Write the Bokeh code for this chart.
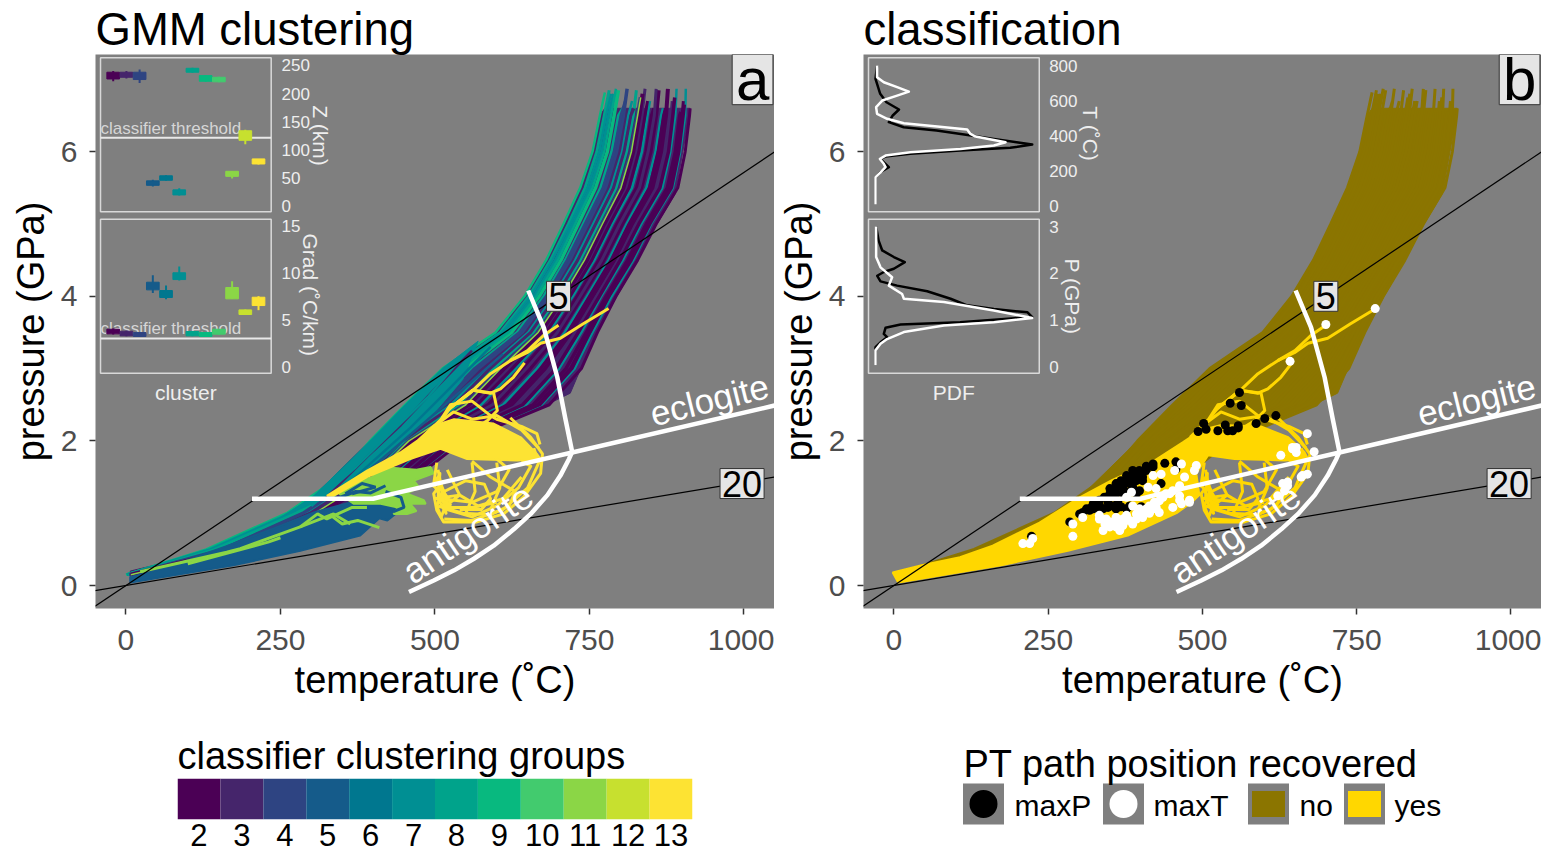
import math
from bokeh.plotting import figure
from bokeh.layouts import column, row
from bokeh.models import Range1d, Label, FixedTicker, FactorRange
from bokeh.core.properties import value
from bokeh.embed import file_html
from bokeh.resources import INLINE

FONT = "Liberation Sans"
GREY = "#7f7f7f"
VIRIDIS = ["#4B0055","#45256B","#2E4482","#155B8A","#00778F","#008F93",
           "#00A38B","#08B97F","#42CB6E","#8BD646","#C7E02F","#FDE333"]
CLUSTERS = [2,3,4,5,6,7,8,9,10,11,12,13]
NO_COL = "#8B7500"
YES_COL = "#FFD700"

# --- geotherms and reaction boundaries
GEO_T = [-50, 1050]
GEO5_P = [-0.286, 6.0]
GEO20_P = [-0.071, 1.5]
ECLOGITE_T = [204, 400, 428, 722, 1050]
ECLOGITE_P = [1.2, 1.2, 1.26, 1.84, 2.49]
ANTIG_T = [458,498,531,563,595,628,655,682,703,717,722,711,698,676,651]
ANTIG_P = [-0.09,0.07,0.21,0.37,0.55,0.78,0.99,1.25,1.52,1.75,1.85,2.31,2.88,3.57,4.08]

# --- PT paths: temperature at each pressure level, last column at the path's top pressure
PATH_LEVELS = [0.15,0.5,1,1.5,2,2.5,3,3.5,4,4.5,5,5.5,6,6.5]
PATH_T = [
 [0,130,260,345,395,452,512,598,645,680,708,735,755,767,775],
 [1,135,266,351,402,464,523,606,652,687,716,743,762,774,782],
 [2,140,271,358,410,475,535,614,660,695,723,751,770,781,789],
 [3,147,278,365,419,489,548,624,669,704,732,760,779,790,797],
 [4,152,283,371,426,501,559,633,676,711,740,768,786,797,804],
 [5,157,289,378,434,513,570,641,683,718,747,776,794,805,811],
 [6,164,295,385,443,526,584,651,692,727,756,785,803,813,819],
 [7,169,301,391,451,538,595,659,700,735,764,793,810,821,826],
 [8,174,306,398,458,550,606,667,707,742,771,801,818,828,833],
 [9,179,312,404,465,561,618,675,715,750,778,809,825,835,840],
 [10,186,318,411,474,575,631,685,723,758,787,819,835,844,848],
 [11,191,324,418,482,587,642,694,731,766,795,827,842,851,855],
 [12,196,329,424,489,599,654,702,738,773,803,834,849,858,862],
 [13,201,335,431,497,610,665,710,746,781,810,842,857,866,869],
 [14,208,341,438,506,624,678,720,755,790,819,852,866,874,877],
 [15,213,347,444,513,636,690,728,762,797,826,860,874,882,884],
 [16,218,352,451,521,648,701,737,769,804,834,868,881,889,891],
 [17,223,358,456,528,659,712,745,777,812,842,876,889,896,898],
 [19,230,364,464,537,673,726,755,786,821,850,885,897,905,906],
 [20,235,370,470,545,685,737,763,793,828,858,893,905,912,913],
 [2,137,268,354,405,468,528,609,655,690,719,747,766,777,785],
 [3,143,275,361,414,482,541,619,664,699,727,755,774,785,793],
 [5,155,286,375,430,507,564,637,680,714,743,772,790,801,808],
 [7,167,298,388,447,532,589,655,696,731,760,789,806,817,822],
 [8,176,309,401,461,555,612,671,711,746,774,805,821,831,836],
 [10,183,315,407,470,568,625,680,719,754,783,814,830,840,844],
 [11,193,327,421,486,593,648,698,735,770,799,831,845,855,858],
 [13,204,338,434,501,617,671,715,750,785,814,847,861,870,873],
 [15,216,350,448,517,642,696,732,766,800,830,864,878,885,888],
 [18,226,361,460,532,666,719,750,781,816,846,881,893,900,902],
 [18,228,362,462,535,670,722,751,782,818,848,883,895,902,904],
]
PATH_TOP = [6.82,6.85,6.8,6.85,6.6,6.87,6.7,6.85,6.75,6.87,6.7,6.6,6.85,6.6,6.87,6.7,6.87,6.55,6.87,6.6,
            6.8,6.87,6.7,6.6,6.8,6.7,6.87,6.6,6.75,6.7,6.65]
PATH_CLUSTER = [9,8,7,9,8,4,7,8,4,3,7,2,2,7,2,3,7,2,7,2,
                7,8,4,3,2,2,3,2,2,2,2]
PATH_WIDTH = [2.5,3,3,3.5,3,3.5,2.5,3,4,3,2.5,4,4,2.5,4,3,2.5,3.5,2.5,3,
              2.5,2.5,3,3,4,3,3,3,3.5,3,3]

ENV_T = [7,110,250,304,395,452,512,598,645,680,708,735,755,767,775,913,908,889,853,816,781,751,730,719,671,574,471,433,282,7]
ENV_P = [0.2,0.41,0.94,1.24,2.0,2.5,3.0,3.5,4.0,4.5,5.0,5.5,6.0,6.5,6.6,6.6,6.33,5.42,4.91,4.32,3.8,3.29,2.88,2.66,2.46,2.21,1.59,1.01,0.48,0.04]

TEAL_T = [250,304,395,452,512,570,545,500,450,390,320]
TEAL_P = [0.94,1.24,2.0,2.5,3.0,3.38,2.85,2.4,2.0,1.55,1.2]
TEAL_LINES_T = [[320,390,445,500,560],[330,400,460,515,590],[350,410,470,530,610],[300,370,430,490,540]]
TEAL_LINES_P = [[1.18,1.78,2.22,2.72,3.25],[1.18,1.72,2.18,2.65,3.3],[1.3,1.72,2.16,2.6,3.2],[1.1,1.62,2.12,2.62,3.12]]
TEAL_LINES_C = [3,6,5,7]

BLUE_T = [7,67,174,239,304,363,405,433,439,423,410,379,282,174,7]
BLUE_P = [0.115,0.25,0.58,0.79,1.01,1.15,1.2,1.11,1.01,0.9,0.93,0.69,0.48,0.28,0.04]
GREEN_T = [345,379,400,417,444,470,493,498,466,474,455,482,485,460,470,455,433,440,412,369]
GREEN_P = [1.27,1.45,1.5,1.64,1.62,1.6,1.64,1.55,1.45,1.36,1.27,1.18,1.13,1.13,1.03,0.99,0.99,1.08,1.13,1.13]
BLOB_T = [325,390,444,471,498,531,595,639,665,671,633,552,509,460,390,336]
BLOB_P = [1.24,1.59,1.84,2.0,2.21,2.3,2.24,2.05,1.82,1.75,1.73,1.75,1.89,1.75,1.5,1.24]
YES_T = [-2,45,107,160,236,301,354,419,468,498,531,595,639,665,671,633,552,509,490,495,484,458,379,282,174,7]
YES_P = [0.18,0.28,0.39,0.55,0.87,1.22,1.46,1.71,1.98,2.15,2.22,2.2,2.05,1.85,1.75,1.73,1.75,1.8,1.55,1.25,1.16,1.0,0.69,0.48,0.28,0.04]

GREEN_LINES_T = [[23,163,185,282,336,363],[282,310,325,366,390],[100,160,230,250],[330,350,375,410]]
GREEN_LINES_P = [[0.19,0.46,0.51,0.81,0.99,0.85],[0.81,0.99,0.92,1.08,1.08],[0.3,0.44,0.6,0.66],[0.98,0.85,0.9,0.8]]
BLUE_LINES_T = [[355,382,404,366],[340,372,396,420],[420,445,450,432]]
BLUE_LINES_P = [[1.27,1.41,1.36,1.27],[1.2,1.3,1.28,1.38],[1.3,1.22,1.08,1.02]]

LOOP_T = [
 [781,740,703,671,649,622,590,558,525,512],
 [700,676,650,622],
 [645,627,606,590,561,536,520],
 [520,536,561,595,601,585,550],
 [514,498,503,514,568,611,644,671,674,655,622],
 [503,498,520,560,600,635,655,640],
 [520,540,570,610,640],
 [510,560,600,620,600],
 [505,545,590,620,630,590,560],
 [515,550,580,590,575,540],
 [560,565,550],
 [600,605,590],
 [498,508,505,518,510,525,540,498],
 [480,510,525,560,590,600,640,665,670],
 [498,530,560,600,640,668],
 [505,512,503,510,520,508],
 [515,560,610,650,668,660],
 [500,515,505,525,515,560,600],
]
LOOP_P = [
 [3.83,3.62,3.42,3.35,3.22,3.11,2.93,2.67,2.46,2.31],
 [3.6,3.46,3.25,3.11],
 [3.08,2.88,2.72,2.66,2.7,2.53,2.42],
 [2.42,2.53,2.7,2.66,2.42,2.28,2.1],
 [1.45,1.27,1.04,0.88,0.88,0.99,1.23,1.55,1.82,2.05,2.32],
 [1.7,1.4,1.05,0.95,1.1,1.35,1.65,1.72],
 [1.6,1.25,1.1,1.2,1.5],
 [1.2,1.15,1.3,1.6,1.75],
 [1.1,1.0,0.98,1.1,1.3,1.5,1.72],
 [1.3,1.45,1.4,1.2,1.05,1.05],
 [1.7,1.3,1.0],
 [1.7,1.35,1.05],
 [1.35,1.55,1.2,1.0,1.35,1.15,1.25,1.2],
 [2.05,2.3,2.5,2.55,2.35,2.3,2.2,2.1,1.95],
 [2.2,2.4,2.3,2.35,2.15,1.9],
 [1.6,1.3,1.1,0.95,1.15,1.45],
 [0.92,0.9,1.05,1.35,1.7,1.9],
 [1.5,1.3,1.2,1.12,1.08,1.08,1.15],
]

# --- recovered positions in panel b
MAXP_T = [560,545,563,619,601,587,502,493,506,525,537,541,549,558,558,439,457,457,420,409,398,385,377,403,374,360,350,433,398,377,355,347,333,320,306,317,331,347,360,377,401,301,285,223,387,371,393,363,
          312,323,333,341,350,360,368,377,387,398,409,420,323,339,355,368,382,360,371,387,403,382,393]
MAXP_P = [2.67,2.52,2.49,2.35,2.31,2.24,2.24,2.13,2.16,2.14,2.22,2.14,2.14,2.21,2.18,1.69,1.71,1.61,1.64,1.59,1.52,1.5,1.47,1.45,1.43,1.34,1.27,1.41,1.31,1.29,1.24,1.15,1.11,1.08,1.01,1.04,1.06,1.08,1.06,1.06,1.09,0.99,0.88,0.68,1.59,1.36,1.45,1.17,
          1.06,1.13,1.18,1.22,1.34,1.41,1.45,1.52,1.54,1.59,1.65,1.68,1.06,1.06,1.1,1.09,1.1,1.27,1.27,1.36,1.5,1.41,1.27]
MAXT_T = [780,700,642,670,646,652,627,681,670,660,630,638,633,622,490,487,466,455,471,433,420,412,425,463,463,479,466,447,436,422,409,393,377,366,371,350,339,333,306,290,290,209,225,220,366,403,430,452,385,377,387,355,344,387,414,433,
          430,441,452,463,425,414,403,393,382,371,360,350,360,377,398,414,420,333,342,463,479,662,638,646,652]
MAXT_P = [3.83,3.61,3.1,2.1,1.91,1.84,1.8,1.85,1.54,1.5,1.41,1.38,1.31,1.24,1.66,1.59,1.68,1.59,1.5,1.54,1.52,1.36,1.34,1.38,1.24,1.18,1.13,1.27,1.22,1.15,1.06,0.99,0.97,0.85,0.92,0.88,0.76,0.97,0.94,0.85,0.68,0.58,0.65,0.58,0.76,0.94,1.01,1.08,1.29,1.22,1.1,0.85,0.92,0.85,1.1,1.22,
          1.17,1.27,1.31,1.36,1.08,1.01,1.01,0.92,0.9,0.83,0.81,0.81,0.94,0.9,1.06,1.0,1.06,0.92,0.85,1.18,1.15,1.52,1.43,1.89,1.91]

# --- inset boxplots per cluster
Z_Q1 = [226,229,225,37,46,20,238,222,221,53,117,75]
Z_Q3 = [238,238,238,45,54,29,245,232,229,62,134,84]
Z_LO = [222,227,219,35,45,19,237,221,220,49,110,74]
Z_HI = [240,240,243,47,55,32,246,233,230,62,136,84]
G_Q1 = [3.53,3.32,3.25,8.19,7.38,9.28,3.32,3.25,3.5,7.24,5.58,6.53]
G_Q3 = [4.02,3.81,3.67,9.0,8.12,10.0,3.78,3.67,4.02,8.44,6.07,7.41]
G_LO = [3.45,3.28,3.2,7.87,7.2,9.18,3.28,3.2,3.45,7.24,5.55,6.04]
G_HI = [4.1,3.85,3.7,9.74,8.65,10.66,3.82,3.7,4.05,9.1,6.1,7.52]
Z_TICKS = [0,50,100,150,200,250]
G_TICKS = [0,5,10,15]
Z_THRESHOLD = 121.5
G_THRESHOLD = 3.04

# --- inset densities
PDF_T_BLACK = [800,724,639,591,550,516,478,449,430,402,383,364,351,332,317,298,282,269,222,193,165,9]
PDF_BLACK_T = [0.01,0,0.03,0.07,0.15,0.11,0.085,0.18,0.39,0.61,0.755,0.9,1,0.86,0.54,0.22,0.064,0.03,0.085,0.03,0,0]
PDF_T_WHITE = [800,734,705,677,652,629,601,563,525,497,472,453,436,411,396,377,364,345,326,307,288,269,241,222,193,165,9]
PDF_WHITE_T = [0.01,0.01,0.053,0.138,0.213,0.138,0.043,0.004,0.01,0.074,0.181,0.394,0.585,0.606,0.638,0.755,0.83,0.755,0.543,0.223,0.064,0.028,0.053,0.064,0.032,0,0]
PDF_P_BLACK = [3.0,2.7,2.49,2.35,2.24,2.1,2.03,1.95,1.83,1.74,1.62,1.46,1.32,1.24,1.17,1.07,0.96,0.91,0.84,0.71,0.64,0.53,0.43,0.04]
PDF_BLACK_P = [0.004,0.02,0.043,0.117,0.187,0.117,0.053,0.011,0.032,0.138,0.33,0.479,0.585,0.755,0.97,1,0.54,0.16,0.064,0.053,0.074,0.032,0,0]
PDF_P_WHITE = [3.0,2.35,2.13,1.92,1.74,1.56,1.46,1.39,1.21,1.05,0.96,0.89,0.75,0.6,0.5,0.36,0.04]
PDF_WHITE_P = [0.004,0.004,0.032,0.106,0.085,0.17,0.181,0.436,0.755,1,0.755,0.436,0.181,0.074,0.032,0,0]
T_TICKS = [0,200,400,600,800]
P_TICKS = [0,1,2,3]


def txt(p, x, y, s, size, color="#000000", angle=0, align="center", baseline="middle", **kw):
    p.text(x=[x], y=[y], text=[s], text_font=value(FONT), text_font_size=size, text_color=color,
           angle=angle, text_align=align, text_baseline=baseline, **kw)


def panel(title, w, left):
    p = figure(width=w, height=725, output_backend="svg", toolbar_location=None,
               x_range=Range1d(-49.3, 1049.5), y_range=Range1d(-0.318, 7.344),
               min_border_left=left, min_border_right=0, min_border_top=54, min_border_bottom=117,
               background_fill_color=GREY, outline_line_color=None, title=title)
    p.title.text_font = FONT
    p.title.text_font_size = "45.5px"
    p.title.text_font_style = "normal"
    p.title.text_color = "#000000"
    p.title.align = "left"
    p.title.standoff = 0
    p.title.offset = 0
    p.grid.visible = False
    p.xaxis.ticker = FixedTicker(ticks=[0,250,500,750,1000])
    p.yaxis.ticker = FixedTicker(ticks=[0,2,4,6])
    p.xaxis.axis_label = "temperature (˚C)"
    p.yaxis.axis_label = "pressure (GPa)"
    for ax in (p.xaxis, p.yaxis):
        ax.axis_line_color = None
        ax.major_tick_line_color = "#333333"
        ax.major_tick_line_width = 1.5
        ax.major_tick_in = 0
        ax.major_tick_out = 6
        ax.minor_tick_line_color = None
        ax.major_label_text_font = FONT
        ax.major_label_text_font_size = "30px"
        ax.major_label_text_color = "#4d4d4d"
        ax.axis_label_text_font = FONT
        ax.axis_label_text_font_size = "38px"
        ax.axis_label_text_font_style = "normal"
        ax.axis_label_text_color = "#000000"
    p.xaxis.major_label_standoff = 15
    p.xaxis.axis_label_standoff = 6
    p.yaxis.major_label_standoff = 12
    p.yaxis.axis_label_standoff = 6
    return p


def decorate(p, letter):
    p.line(GEO_T, GEO5_P, line_color="#000000", line_width=1.2)
    p.line(GEO_T, GEO20_P, line_color="#000000", line_width=1.2)
    p.line(ECLOGITE_T, ECLOGITE_P, line_color="#ffffff", line_width=4.5, line_join="round")
    p.line(ANTIG_T, ANTIG_P, line_color="#ffffff", line_width=4.5, line_join="round")
    txt(p, 944, 2.57, "eclogite", "35px", "#ffffff", angle=math.radians(14))
    txt(p, 553, 0.72, "antigorite", "36px", "#ffffff", angle=math.radians(34))
    for t, pr, s in ((700, 4.0, "5"), (997, 1.41, "20")):
        p.add_layout(Label(x=t, y=pr, text=s, text_font=FONT, text_font_size="36px", text_align="center",
                           text_baseline="middle", text_color="#000000", background_fill_color="#e5e5e5",
                           border_line_color="#333333", padding=2))
    p.quad(left=[981], right=[1047], bottom=[6.65], top=[7.344], fill_color="#e5e5e5", line_color="#333333", line_width=1)
    txt(p, 1014, 7.0, letter, "60px")


def inset_frames(p, xr, x0, x1, yr1, lim1, yr2, lim2):
    for yr, lim in ((yr1, lim1), (yr2, lim2)):
        p.quad(left=[x0], right=[x1], bottom=[lim[0]], top=[lim[1]], x_range_name=xr, y_range_name=yr,
               fill_color=None, line_color="#d9d9d9", line_width=1.5)


def ticks(p, xr, yr, x, vals):
    p.text(x=[x]*len(vals), y=vals, text=[str(v) for v in vals], x_range_name=xr, y_range_name=yr,
           text_font=value(FONT), text_font_size="17px", text_color="#eeeeee",
           text_align="left", text_baseline="middle")


def rtext(p, xr, yr, x, y, s, size="21px"):
    txt(p, x, y, s, size, "#eeeeee", angle=-math.pi/2, x_range_name=xr, y_range_name=yr)


def path_xy(i):
    lv = PATH_LEVELS if PATH_TOP[i] > 6.5 else PATH_LEVELS[:-1]
    t = PATH_T[i] if PATH_TOP[i] > 6.5 else PATH_T[i][:-2] + PATH_T[i][-1:]
    return t, lv + [PATH_TOP[i]]


# ============ panel a
pa = panel("GMM clustering", 774, 95)
pa.extra_x_ranges["cl"] = Range1d(0.66, 52.06)
pa.extra_y_ranges["z"] = Range1d(-714.8, 269.5)
pa.extra_y_ranges["g"] = Range1d(-25.56, 33.12)

cols_by_cluster = {c: VIRIDIS[i] for i, c in enumerate(CLUSTERS)}
pa.patch(ENV_T, ENV_P, fill_color=VIRIDIS[1], line_color=VIRIDIS[1], line_width=1)
for i in range(len(PATH_T)):
    t, pr = path_xy(i)
    pa.line(t, pr, line_color=cols_by_cluster[PATH_CLUSTER[i]], line_width=PATH_WIDTH[i], line_join="round")
t, pr = path_xy(8)
pa.line(t, pr, line_color=VIRIDIS[9], line_width=1.5)
pa.patch(TEAL_T, TEAL_P, fill_color=VIRIDIS[5], line_color=VIRIDIS[5], line_width=1)
for t, pr, c in zip(TEAL_LINES_T, TEAL_LINES_P, TEAL_LINES_C):
    pa.line(t, pr, line_color=cols_by_cluster[c], line_width=2.5, line_join="round")
pa.patch(BLUE_T, BLUE_P, fill_color=VIRIDIS[3], line_color=VIRIDIS[3], line_width=2)
pa.patch(GREEN_T, GREEN_P, fill_color=VIRIDIS[9], line_color=VIRIDIS[9], line_width=2)
for t, pr in zip(GREEN_LINES_T, GREEN_LINES_P):
    pa.line(t, pr, line_color=VIRIDIS[9], line_width=3)
for t, pr in zip(BLUE_LINES_T, BLUE_LINES_P):
    pa.line(t, pr, line_color=VIRIDIS[3], line_width=3)
pa.patch(BLOB_T, BLOB_P, fill_color=VIRIDIS[11], line_color=VIRIDIS[11], line_width=2)
for t, pr in zip(LOOP_T, LOOP_P):
    pa.line(t, pr, line_color=VIRIDIS[11], line_width=3, line_join="round")
decorate(pa, "a")

inset_frames(pa, "cl", 1.04, 13.96, "z", (-9.95, 263.7), "g", (-0.64, 15.68))
for yr, q1, q3, lo, hi, thr in (("z", Z_Q1, Z_Q3, Z_LO, Z_HI, Z_THRESHOLD),
                                ("g", G_Q1, G_Q3, G_LO, G_HI, G_THRESHOLD)):
    pa.line([1.04, 13.96], [thr, thr], x_range_name="cl", y_range_name=yr, line_color="#e8e8e8", line_width=2)
    txt(pa, 1.04, thr, "classifier threshold", "17px", "#d6d6d6", align="left", baseline="bottom",
        x_range_name="cl", y_range_name=yr)
    pa.segment(x0=CLUSTERS, x1=CLUSTERS, y0=lo, y1=hi, x_range_name="cl", y_range_name=yr,
               line_color=VIRIDIS, line_width=2)
    pa.quad(left=[c-0.48 for c in CLUSTERS], right=[c+0.48 for c in CLUSTERS], bottom=q1, top=q3,
            x_range_name="cl", y_range_name=yr, fill_color=VIRIDIS, line_color=VIRIDIS, line_width=1)
ticks(pa, "cl", "z", 14.74, Z_TICKS)
ticks(pa, "cl", "g", 14.74, G_TICKS)
rtext(pa, "cl", "z", 17.7, 125.6, "Z (km)")
rtext(pa, "cl", "g", 16.93, 7.67, "Grad (˚C/km)")
txt(pa, 7.5, -2.68, "cluster", "21px", "#eeeeee", x_range_name="cl", y_range_name="g")

# ============ panel b
pb = panel("classification", 767, 89)
pb.extra_x_ranges["pdf"] = Range1d(-0.0766, 4.25)
pb.extra_y_ranges["t"] = Range1d(-2288, 862.8)
pb.extra_y_ranges["p"] = Range1d(-5.146, 6.669)
pb.patch(ENV_T, ENV_P, fill_color=NO_COL, line_color=NO_COL, line_width=1)
for i in range(len(PATH_T)):
    t, pr = path_xy(i)
    pb.line(t, pr, line_color=NO_COL, line_width=3)
pb.patch(YES_T, YES_P, fill_color=YES_COL, line_color=YES_COL, line_width=2)
for t, pr in zip(LOOP_T, LOOP_P):
    pb.line(t, pr, line_color=YES_COL, line_width=3, line_join="round")
pb.scatter(MAXP_T, MAXP_P, size=9, fill_color="#000000", line_color=None)
pb.scatter(MAXT_T, MAXT_P, size=9, fill_color="#ffffff", line_color=None)
decorate(pb, "b")

inset_frames(pb, "pdf", -0.0447, 1.045, "t", (-31.8, 844), "p", (-0.128, 3.156))
pb.line(PDF_BLACK_T, PDF_T_BLACK, x_range_name="pdf", y_range_name="t", line_color="#000000", line_width=2.5, line_join="round")
pb.line(PDF_WHITE_T, PDF_T_WHITE, x_range_name="pdf", y_range_name="t", line_color="#ffffff", line_width=2.5, line_join="round")
pb.line(PDF_BLACK_P, PDF_P_BLACK, x_range_name="pdf", y_range_name="p", line_color="#000000", line_width=2.5, line_join="round")
pb.line(PDF_WHITE_P, PDF_P_WHITE, x_range_name="pdf", y_range_name="p", line_color="#ffffff", line_width=2.5, line_join="round")
ticks(pb, "pdf", "t", 1.108, T_TICKS)
ticks(pb, "pdf", "p", 1.108, P_TICKS)
rtext(pb, "pdf", "t", 1.372, 412, "T (˚C)")
rtext(pb, "pdf", "p", 1.255, 1.51, "P (GPa)")
txt(pb, 0.5, -0.54, "PDF", "21px", "#eeeeee", x_range_name="pdf", y_range_name="p")

# ============ legend a: binned colour bar
la = figure(width=774, height=126, output_backend="svg", toolbar_location=None,
            x_range=FactorRange(factors=[str(c) for c in CLUSTERS], range_padding=0), y_range=Range1d(0, 1),
            min_border_left=177, min_border_right=82, min_border_top=53, min_border_bottom=32,
            outline_line_color=None, y_axis_location=None, title="classifier clustering groups",
            frame_align=False)
la.title.text_font = FONT
la.title.text_font_size = "38px"
la.title.text_font_style = "normal"
la.title.text_color = "#000000"
la.title.standoff = 4
la.title.offset = 0
la.grid.visible = False
la.vbar(x=[str(c) for c in CLUSTERS], top=[1]*12, bottom=[0]*12, width=1, fill_color=VIRIDIS, line_color=None)
la.xaxis.axis_line_color = None
la.xaxis.major_tick_line_color = None
la.xaxis.major_label_text_font = FONT
la.xaxis.major_label_text_font_size = "31px"
la.xaxis.major_label_text_color = "#000000"
la.xaxis.major_label_standoff = -2

# ============ legend b
KEY_X = [983, 1123, 1268, 1364]
KEY_LAB = ["maxP", "maxT", "no", "yes"]
LAB_X = [1014, 1153, 1299, 1394]
KEY_Y = 126 - (803.5 - 725)
lb = figure(width=767, height=126, output_backend="svg", toolbar_location=None,
            x_range=Range1d(774, 1541), y_range=Range1d(0, 126),
            min_border_left=0, min_border_right=0, min_border_top=0, min_border_bottom=0,
            outline_line_color=None, x_axis_location=None, y_axis_location=None, frame_align=False)
lb.grid.visible = False
lb.rect(x=KEY_X, y=[KEY_Y]*4, width=41, height=41, fill_color=GREY, line_color=None)
lb.scatter(x=KEY_X[:2], y=[KEY_Y]*2, size=28, fill_color=["#000000", "#ffffff"], line_color=None)
lb.rect(x=KEY_X[2:], y=[KEY_Y]*2, width=33, height=26, fill_color=[NO_COL, YES_COL], line_color=None)
lb.text(x=LAB_X, y=[KEY_Y-1]*4, text=KEY_LAB, text_font=value(FONT), text_font_size="30px", text_baseline="middle")
txt(lb, 963, 88, "PT path position recovered", "38px", align="left", baseline="middle")

layout = column(row(pa, pb, spacing=0), row(la, lb, spacing=0), spacing=0)
open("out.html", "w").write(file_html(layout, INLINE))
